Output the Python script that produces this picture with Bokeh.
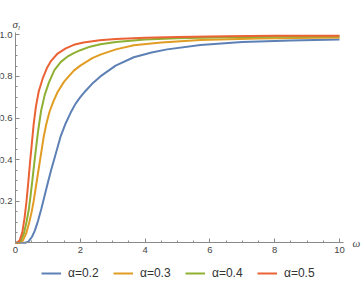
from bokeh.plotting import figure
from bokeh.models import (Range1d, Legend, LegendItem, Label, FixedTicker,
                          NumeralTickFormatter, LinearAxis)
from bokeh.embed import file_html
from bokeh.resources import INLINE

# ---- data ----
series_labels = ["α=0.2", "α=0.3", "α=0.4", "α=0.5"]
series_colors = ["#5E81B5", "#E19C24", "#8FB032", "#EB6235"]

omega_a02 = [0, 0.3, 0.4, 0.51, 0.6, 0.7, 0.8, 0.9, 1.0, 1.1, 1.21, 1.39, 1.55, 1.7,
             1.85, 2.0, 2.16, 2.4, 2.62, 3.09, 3.65, 4.2, 4.68, 5.71, 7.0, 8.5, 10.0]
sigma_a02 = [0, 0, 0.006, 0.029, 0.06, 0.108, 0.165, 0.228, 0.29, 0.35, 0.41, 0.51, 0.575, 0.625,
             0.668, 0.7, 0.73, 0.77, 0.8, 0.852, 0.892, 0.915, 0.93, 0.951, 0.965, 0.973, 0.978]

omega_a03 = [0, 0.12, 0.23, 0.33, 0.42, 0.5, 0.56, 0.62, 0.68, 0.74, 0.80, 0.87, 0.95, 1.05,
             1.17, 1.3, 1.5, 1.8, 2.0, 2.37, 2.62, 3.1, 3.65, 4.5, 5.7, 7.5, 10.0]
sigma_a03 = [0, 0, 0.012, 0.045, 0.095, 0.15, 0.2, 0.26, 0.32, 0.38, 0.44, 0.51, 0.57, 0.63,
             0.68, 0.725, 0.775, 0.828, 0.852, 0.888, 0.905, 0.93, 0.95, 0.963, 0.975, 0.982, 0.987]

omega_a04 = [0, 0.08, 0.17, 0.26, 0.34, 0.41, 0.46, 0.52, 0.57, 0.63, 0.70, 0.79, 0.90, 1.03,
             1.2, 1.4, 1.6, 1.8, 2.0, 2.3, 2.62, 3.1, 4.0, 5.0, 6.5, 8.0, 10.0]
sigma_a04 = [0, 0, 0.012, 0.045, 0.1, 0.16, 0.22, 0.3, 0.37, 0.45, 0.54, 0.635, 0.71, 0.77,
             0.83, 0.87, 0.895, 0.912, 0.926, 0.943, 0.955, 0.966, 0.978, 0.984, 0.988, 0.991, 0.993]

omega_a05 = [0, 0.05, 0.13, 0.21, 0.28, 0.34, 0.40, 0.45, 0.50, 0.56, 0.63, 0.72, 0.84, 0.97,
             1.1, 1.3, 1.55, 1.8, 2.1, 2.6, 3.1, 4.0, 5.0, 6.5, 8.0, 10.0]
sigma_a05 = [0, 0, 0.012, 0.05, 0.12, 0.2, 0.3, 0.39, 0.47, 0.57, 0.655, 0.73, 0.79, 0.84,
             0.875, 0.91, 0.935, 0.952, 0.963, 0.974, 0.98, 0.986, 0.99, 0.993, 0.995, 0.996]

x_major_ticks = [0, 2, 4, 6, 8, 10]
x_minor_ticks = [0.5 * i for i in range(21)]
y_major_ticks = [0.2, 0.4, 0.6, 0.8, 1.0]
y_minor_ticks = [0.05 * i for i in range(21)]

x_axis_title = "ω"
y_axis_title = "σ"
y_axis_sub = "l"

# ---- figure: the frame fills the canvas, axes cross at the origin ----
AX = "#8a8a8a"
TXT = "#444444"

p = figure(width=361, height=289, output_backend="svg", toolbar_location=None,
           x_range=Range1d(-0.463, 10.679), y_range=Range1d(-0.2245, 1.165),
           x_axis_type=None, y_axis_type=None,
           min_border_left=0, min_border_right=0, min_border_top=0, min_border_bottom=0)
p.outline_line_color = None
p.grid.visible = False
p.background_fill_color = "white"
p.border_fill_color = "white"

renderers = []
for xs, ys, c in zip([omega_a02, omega_a03, omega_a04, omega_a05],
                     [sigma_a02, sigma_a03, sigma_a04, sigma_a05], series_colors):
    r = p.line(xs, ys, line_color=c, line_width=2)
    renderers.append(r)

xaxis = LinearAxis(fixed_location=0, bounds=(0, 10.12),
                   ticker=FixedTicker(ticks=x_major_ticks, minor_ticks=x_minor_ticks))
yaxis = LinearAxis(fixed_location=0, bounds=(0, 1.011),
                   ticker=FixedTicker(ticks=y_major_ticks, minor_ticks=y_minor_ticks),
                   formatter=NumeralTickFormatter(format="0.0"))
for ax in (xaxis, yaxis):
    ax.axis_line_color = AX
    ax.major_tick_line_color = AX
    ax.minor_tick_line_color = AX
    ax.major_tick_in = 4
    ax.major_tick_out = 0
    ax.minor_tick_in = 2
    ax.minor_tick_out = 0
    ax.major_label_text_font = "Liberation Sans"
    ax.major_label_text_font_size = "9.5px"
    ax.major_label_text_color = TXT
xaxis.major_label_standoff = 4
yaxis.major_label_standoff = 3
p.add_layout(xaxis, "below")
p.add_layout(yaxis, "left")

p.add_layout(Label(x=10.40, y=0, text=x_axis_title, text_font="Liberation Serif",
                   text_font_style="italic", text_font_size="11px", text_color=TXT,
                   text_baseline="middle", text_align="left"))
p.add_layout(Label(x=-0.093, y=1.05, text=y_axis_title, text_font="Liberation Serif",
                   text_font_style="italic", text_font_size="11px", text_color=TXT,
                   text_baseline="middle", text_align="left"))
p.add_layout(Label(x=0.077, y=1.035, text=y_axis_sub, text_font="Liberation Serif",
                   text_font_style="italic", text_font_size="7px", text_color=TXT,
                   text_baseline="middle", text_align="left"))

legend = Legend(items=[LegendItem(label=lab, renderers=[r]) for lab, r in zip(series_labels, renderers)],
                orientation="horizontal", location=(41, 9),
                glyph_width=20, glyph_height=14, label_standoff=7, label_width=35,
                spacing=10, padding=0, margin=0,
                border_line_color=None, background_fill_alpha=0,
                label_text_font="Liberation Sans", label_text_font_size="12px",
                label_text_color="#333333")
p.add_layout(legend, "center")

open("out.html", "w").write(file_html(p, INLINE))
